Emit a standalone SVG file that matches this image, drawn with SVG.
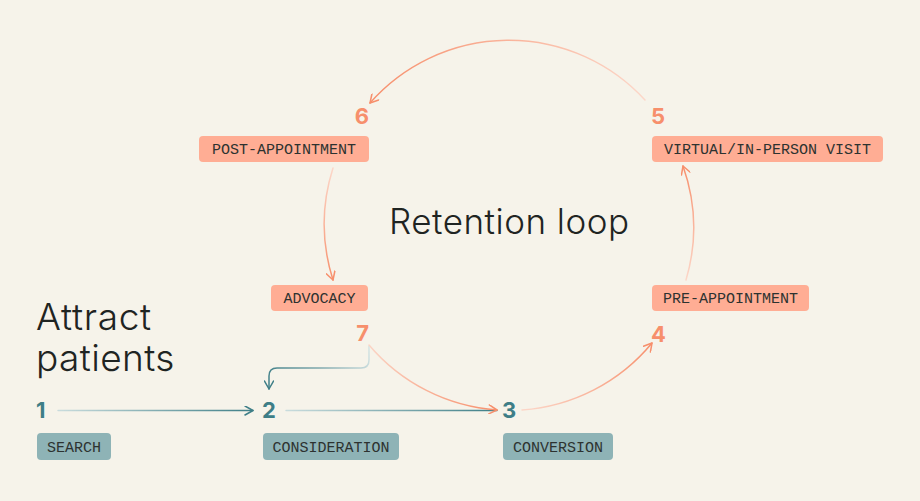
<svg xmlns="http://www.w3.org/2000/svg" width="920" height="501" viewBox="0 0 920 501">
<style>
.bs{fill:#ffad94}
.bt{fill:#8eb3b6}
.lb{font-family:"Liberation Mono","DejaVu Sans Mono",monospace;font-size:15px;fill:#2d3230}
.ns{font-family:Inter,"Noto Sans",sans-serif;font-weight:700;font-size:22px;fill:#f78f6c}
.nt{font-family:Inter,"Noto Sans",sans-serif;font-weight:700;font-size:22px;fill:#3e7e87}
.big{font-family:Inter,"Noto Sans",sans-serif;font-weight:300;fill:#1f2422}
.cs{fill:none;stroke-width:1.5;stroke-linecap:round}
</style>
<defs>
<marker id="as" viewBox="0 0 10 10" refX="9" refY="5" markerWidth="10" markerHeight="10" markerUnits="userSpaceOnUse" orient="auto">
<path d="M1,0.5 L9,5 L1,9.5" fill="none" stroke="#f78f6c" stroke-width="1.5" stroke-linecap="round" stroke-linejoin="round"/>
</marker>
<marker id="at" viewBox="0 0 10 10" refX="9" refY="5" markerWidth="10" markerHeight="10" markerUnits="userSpaceOnUse" orient="auto">
<path d="M1,0.5 L9,5 L1,9.5" fill="none" stroke="#3e7e87" stroke-width="1.5" stroke-linecap="round" stroke-linejoin="round"/>
</marker>
<linearGradient id="g73" gradientUnits="userSpaceOnUse" x1="369" y1="345" x2="497" y2="410"><stop offset="0" stop-color="#fbd5c6"/><stop offset="1" stop-color="#f78f6c"/></linearGradient>
<linearGradient id="g34" gradientUnits="userSpaceOnUse" x1="522" y1="410" x2="652" y2="343"><stop offset="0" stop-color="#fcd7c9"/><stop offset="1" stop-color="#f78f6c"/></linearGradient>
<linearGradient id="g45" gradientUnits="userSpaceOnUse" x1="686" y1="280" x2="683" y2="166"><stop offset="0" stop-color="#fcd7c9"/><stop offset="1" stop-color="#f78f6c"/></linearGradient>
<linearGradient id="g56" gradientUnits="userSpaceOnUse" x1="645" y1="100" x2="370" y2="103"><stop offset="0" stop-color="#fcd7c9"/><stop offset="1" stop-color="#f78f6c"/></linearGradient>
<linearGradient id="g67" gradientUnits="userSpaceOnUse" x1="333" y1="168" x2="333" y2="280"><stop offset="0" stop-color="#fcd7c9"/><stop offset="1" stop-color="#f78f6c"/></linearGradient>
<linearGradient id="g12" gradientUnits="userSpaceOnUse" x1="58" y1="0" x2="253" y2="0"><stop offset="0" stop-color="#c9dcdd"/><stop offset="1" stop-color="#3e7e87"/></linearGradient>
<linearGradient id="g23" gradientUnits="userSpaceOnUse" x1="286" y1="0" x2="497" y2="0"><stop offset="0" stop-color="#c9dcdd"/><stop offset="1" stop-color="#3e7e87"/></linearGradient>
<linearGradient id="g72" gradientUnits="userSpaceOnUse" x1="369" y1="345" x2="269" y2="390"><stop offset="0" stop-color="#d6e5e5"/><stop offset="0.5" stop-color="#7fa8ad"/><stop offset="1" stop-color="#3e7e87"/></linearGradient>
</defs>
<rect width="920" height="501" fill="#f6f3ea"/>
<text class="big" x="389" y="234" font-size="35" letter-spacing="0.5">Retention loop</text>
<text class="big" x="36" y="330" font-size="37" letter-spacing="0.7">Attract</text>
<text class="big" x="36" y="371" font-size="37" letter-spacing="0.4">patients</text>
<g id="connectors">
<path class="cs" stroke="url(#g12)" d="M58,410.5 L253,410.5" marker-end="url(#at)"/>
<path class="cs" stroke="url(#g23)" d="M286,410.5 L497,410.5"/>
<path class="cs" stroke="url(#g72)" d="M369,346 L369,360 Q369,368 361,368 L277,368 Q269,368 269,376 L269,389" marker-end="url(#at)"/>
<path class="cs" stroke="url(#g73)" d="M369,345 A185,185 0 0 0 497,410" marker-end="url(#as)"/>
<path class="cs" stroke="url(#g34)" d="M522,410 A185,185 0 0 0 652,343" marker-end="url(#as)"/>
<path class="cs" stroke="url(#g45)" d="M686,280 A185,185 0 0 0 683,166" marker-end="url(#as)"/>
<path class="cs" stroke="url(#g56)" d="M645,100 A185,185 0 0 0 370,103" marker-end="url(#as)"/>
<path class="cs" stroke="url(#g67)" d="M333,168 A185,185 0 0 0 333,280" marker-end="url(#as)"/>
</g>
<g id="n1"><text class="nt" x="36" y="418">1</text><rect class="bt" x="37" y="433" width="74" height="27" rx="4"/><text class="lb" x="74" y="451.5" text-anchor="middle">SEARCH</text></g>
<g id="n2"><text class="nt" x="262" y="418">2</text><rect class="bt" x="263" y="433" width="136" height="27" rx="4"/><text class="lb" x="331" y="451.5" text-anchor="middle">CONSIDERATION</text></g>
<g id="n3"><text class="nt" x="502" y="418">3</text><rect class="bt" x="503" y="433" width="110" height="27" rx="4"/><text class="lb" x="558" y="451.5" text-anchor="middle">CONVERSION</text></g>
<g id="n4"><text class="ns" x="651" y="342">4</text><rect class="bs" x="652" y="285" width="157" height="26" rx="4"/><text class="lb" x="730.5" y="303" text-anchor="middle">PRE-APPOINTMENT</text></g>
<g id="n5"><text class="ns" x="651" y="124">5</text><rect class="bs" x="652" y="136" width="231" height="26" rx="4"/><text class="lb" x="767.5" y="154" text-anchor="middle">VIRTUAL/IN-PERSON VISIT</text></g>
<g id="n6"><text class="ns" x="369" y="124" text-anchor="end">6</text><rect class="bs" x="199" y="136" width="170" height="26" rx="4"/><text class="lb" x="284" y="154" text-anchor="middle">POST-APPOINTMENT</text></g>
<g id="n7"><text class="ns" x="369" y="341" text-anchor="end">7</text><rect class="bs" x="271" y="285" width="97" height="26" rx="4"/><text class="lb" x="319.5" y="303" text-anchor="middle">ADVOCACY</text></g>
</svg>
